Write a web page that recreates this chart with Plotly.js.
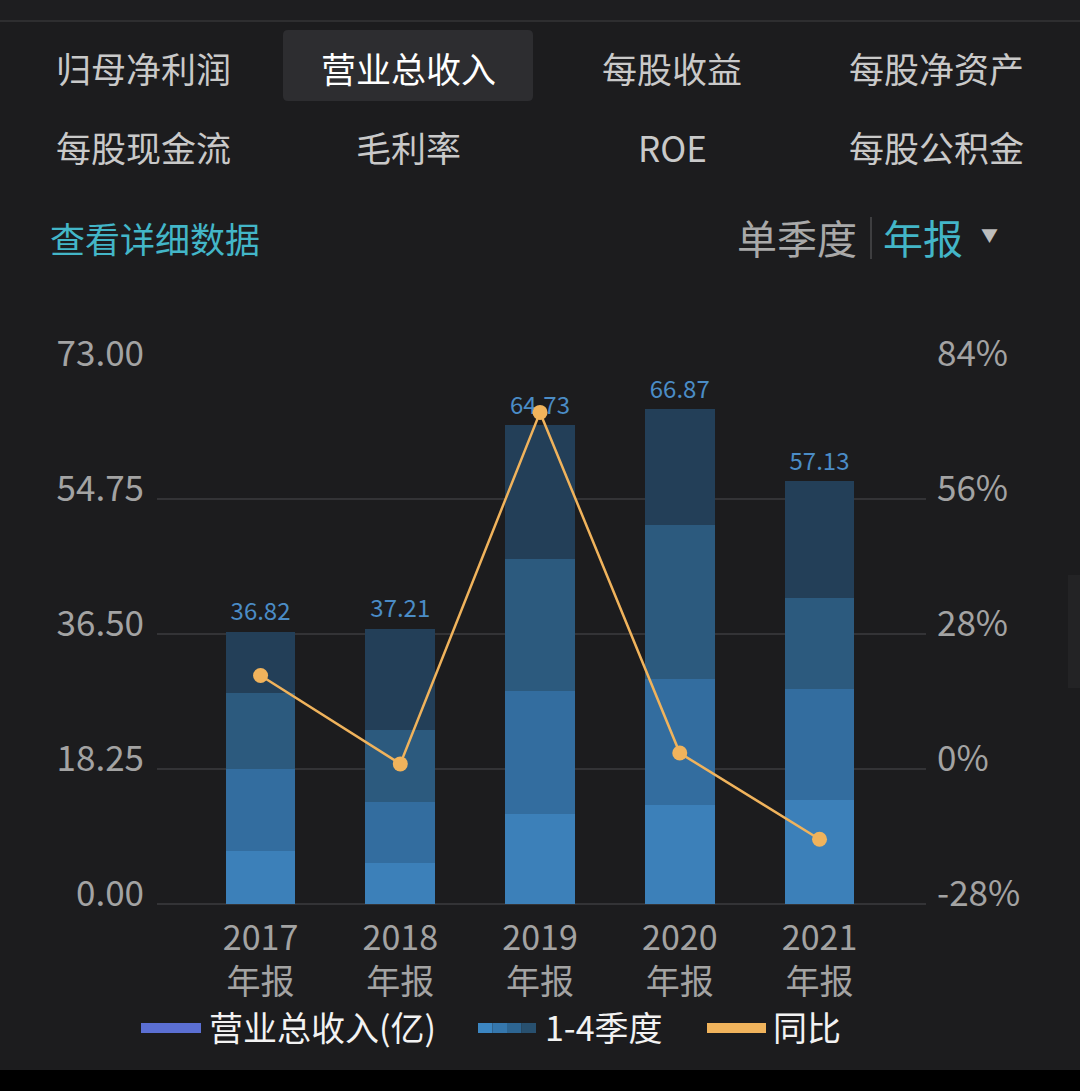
<!DOCTYPE html>
<html>
<head>
<meta charset="utf-8">
<script src="https://cdn.plot.ly/plotly-3.0.1.min.js"></script>
<style>
  html, body { margin: 0; padding: 0; background: #1c1c1e; }
  #chart { width: 1080px; height: 1091px; }
</style>
</head>
<body>
<div id="chart"></div>
<script>
// ---- Data ----
const years = ['2017', '2018', '2019', '2020', '2021'];
const yearLabels = ['2017<br>年报', '2018<br>年报', '2019<br>年报', '2020<br>年报', '2021<br>年报'];
const q1 = [7.21, 5.58, 12.17, 13.44, 14.03];
const q2 = [11.00, 8.25, 16.63, 16.99, 15.04];
const q3 = [10.27, 9.69, 17.90, 20.75, 12.24];
const q4 = [8.34, 13.69, 18.03, 15.69, 15.82];
const totals = [36.82, 37.21, 64.73, 66.87, 57.13];
const yoy = [19.4, 1.06, 73.96, 3.31, -14.57];
const leftTicks = [0, 18.25, 36.5, 54.75, 73];
const rightTicks = [-28, 0, 28, 56, 84];
const tabsRow1 = ['归母净利润', '营业总收入', '每股收益', '每股净资产'];
const tabsRow2 = ['每股现金流', '毛利率', 'ROE', '每股公积金'];
const legendNames = ['营业总收入(亿)', '1-4季度', '同比'];

// ---- Styles ----
const FONT = '"Noto Sans CJK SC", "Noto Sans", sans-serif';
const BG = '#1c1c1e';
const qColors = ['#3c80b9', '#336d9f', '#2c5a7e', '#233f58'];
const ORANGE = '#f0b35c';

// Pixel -> paper helpers (plot area: x 157..926, y 364..904)
const L = 157, R = 154, T = 364, B = 187, W = 1080, H = 1091;
const PW = W - L - R, PH = H - T - B;
const px = v => (v - L) / PW;
const py = v => (H - B - v) / PH;

const qs = [q1, q2, q3, q4];
const traces = qs.map((q, i) => ({
  type: 'bar', x: years, y: q, width: 0.5,
  marker: { color: qColors[i], line: { width: 0 } },
  showlegend: false, hoverinfo: 'skip'
}));

traces.push({
  type: 'scatter', mode: 'markers+text', x: years, y: totals,
  marker: { size: 7, color: 'rgba(0,0,0,0)' },
  text: totals.map(v => v.toFixed(2)), textposition: 'top center',
  textfont: { family: FONT, size: 24, color: '#4b8cc6' },
  showlegend: false, hoverinfo: 'skip'
});

traces.push({
  type: 'scatter', mode: 'lines+markers', x: years, y: yoy, yaxis: 'y2',
  line: { color: ORANGE, width: 2.5 },
  marker: { color: ORANGE, size: 15 },
  showlegend: false, hoverinfo: 'skip'
});

const annotations = [];
const shapes = [];

// top separator and bottom black strip
shapes.push({ type: 'rect', xref: 'paper', yref: 'paper', x0: px(0), x1: px(1080), y0: py(0), y1: py(20), fillcolor: '#1e1e20', line: { width: 0 }, layer: 'below' });
shapes.push({ type: 'line', xref: 'paper', yref: 'paper', x0: px(0), x1: px(1080), y0: py(21), y1: py(21), line: { color: '#2e2e30', width: 2 } });
shapes.push({ type: 'rect', xref: 'paper', yref: 'paper', x0: px(0), x1: px(1080), y0: py(1070), y1: py(1091), fillcolor: '#000000', line: { width: 0 } });
// scrollbar hint on right edge
shapes.push({ type: 'rect', xref: 'paper', yref: 'paper', x0: px(1068), x1: px(1082), y0: py(575), y1: py(688), fillcolor: '#232325', line: { width: 0 }, layer: 'below' });

// selected tab box
shapes.push({ type: 'path', xref: 'paper', yref: 'paper',
  path: (() => { const x0 = 283, x1 = 533, y0 = 30, y1 = 101, r = 5;
    const X = v => px(v), Y = v => py(v);
    return `M ${X(x0 + r)} ${Y(y0)} L ${X(x1 - r)} ${Y(y0)} Q ${X(x1)} ${Y(y0)} ${X(x1)} ${Y(y0 + r)} L ${X(x1)} ${Y(y1 - r)} Q ${X(x1)} ${Y(y1)} ${X(x1 - r)} ${Y(y1)} L ${X(x0 + r)} ${Y(y1)} Q ${X(x0)} ${Y(y1)} ${X(x0)} ${Y(y1 - r)} L ${X(x0)} ${Y(y0 + r)} Q ${X(x0)} ${Y(y0)} ${X(x0 + r)} ${Y(y0)} Z`; })(),
  fillcolor: '#2d2d30', line: { width: 0 }, layer: 'below' });

const tabX = [143, 408, 672, 936];
tabsRow1.forEach((t, i) => annotations.push({ xref: 'paper', yref: 'paper', x: px(tabX[i]), y: py(67), text: t, showarrow: false,
  xanchor: 'center', yanchor: 'middle', font: { family: FONT, size: 35, color: i === 1 ? '#ffffff' : '#c9c9c9' } }));
tabsRow2.forEach((t, i) => annotations.push({ xref: 'paper', yref: 'paper', x: px(tabX[i]), y: py(146), text: t, showarrow: false,
  xanchor: 'center', yanchor: 'middle', font: { family: FONT, size: 35, color: '#c9c9c9' } }));

annotations.push({ xref: 'paper', yref: 'paper', x: px(48), y: py(237), text: '查看详细数据', showarrow: false,
  xanchor: 'left', yanchor: 'middle', font: { family: FONT, size: 35, color: '#43b6c8' } });
annotations.push({ xref: 'paper', yref: 'paper', x: px(859), y: py(237), text: '单季度', showarrow: false,
  xanchor: 'right', yanchor: 'middle', font: { family: FONT, size: 40, color: '#a9a9a9' } });
shapes.push({ type: 'line', xref: 'paper', yref: 'paper', x0: px(871), x1: px(871), y0: py(217), y1: py(259), line: { color: '#4a4a4c', width: 1.5 } });
annotations.push({ xref: 'paper', yref: 'paper', x: px(881), y: py(237), text: '年报', showarrow: false,
  xanchor: 'left', yanchor: 'middle', font: { family: FONT, size: 40, color: '#43b6c8' } });
annotations.push({ xref: 'paper', yref: 'paper', x: px(990), y: py(234), text: '▼', showarrow: false,
  xanchor: 'center', yanchor: 'middle', font: { family: FONT, size: 17, color: '#bdbdbd' } });

// legend (drawn)
const legY = 1028;
shapes.push({ type: 'rect', xref: 'paper', yref: 'paper', x0: px(141), x1: px(201), y0: py(legY - 5), y1: py(legY + 5), fillcolor: '#5b6fd3', line: { width: 0 } });
annotations.push({ xref: 'paper', yref: 'paper', x: px(207), y: py(legY - 2), text: legendNames[0], showarrow: false,
  xanchor: 'left', yanchor: 'middle', font: { family: FONT, size: 34, color: '#f2f2f2' } });
const gradStops = ['#3c86c2', '#3577ad', '#2d6592', '#28506f'];
gradStops.forEach((c, i) => shapes.push({ type: 'rect', xref: 'paper', yref: 'paper', x0: px(478 + i * 14.5), x1: px(478 + (i + 1) * 14.5), y0: py(legY - 5), y1: py(legY + 5), fillcolor: c, line: { width: 0 } }));
annotations.push({ xref: 'paper', yref: 'paper', x: px(543), y: py(legY - 2), text: legendNames[1], showarrow: false,
  xanchor: 'left', yanchor: 'middle', font: { family: FONT, size: 34, color: '#f2f2f2' } });
shapes.push({ type: 'rect', xref: 'paper', yref: 'paper', x0: px(707), x1: px(766), y0: py(legY - 5), y1: py(legY + 5), fillcolor: ORANGE, line: { width: 0 } });
annotations.push({ xref: 'paper', yref: 'paper', x: px(771), y: py(legY - 2), text: legendNames[2], showarrow: false,
  xanchor: 'left', yanchor: 'middle', font: { family: FONT, size: 34, color: '#f2f2f2' } });

const layout = {
  width: W, height: H,
  margin: { l: L, r: R, t: T, b: B, pad: 0 },
  paper_bgcolor: BG, plot_bgcolor: BG,
  barmode: 'stack', bargap: 0.5,
  showlegend: false,
  font: { family: FONT, color: '#a3a3a3' },
  xaxis: {
    type: 'category', range: [-0.741, 4.762], fixedrange: true,
    tickvals: years, ticktext: yearLabels,
    tickfont: { family: FONT, size: 34, color: '#a3a3a3' },
    showgrid: false, zeroline: false, showline: false, ticks: '',
    ticklabelstandoff: 11
  },
  yaxis: {
    range: [0, 73], tickvals: leftTicks, ticktext: leftTicks.map(v => v.toFixed(2)),
    tickfont: { family: FONT, size: 35, color: '#a3a3a3' },
    showgrid: true, gridcolor: '#333336', gridwidth: 1.5,
    zeroline: true, zerolinecolor: '#333336', zerolinewidth: 1.5,
    showline: false, ticks: '', ticklabelstandoff: 12, ticklabelshift: -10
  },
  yaxis2: {
    overlaying: 'y', side: 'right', range: [-28, 84], tickvals: rightTicks,
    ticktext: rightTicks.map(v => v + '%'),
    tickfont: { family: FONT, size: 35, color: '#a3a3a3' },
    showgrid: false, zeroline: false, showline: false, ticks: '',
    ticklabelstandoff: 10, ticklabelshift: -10
  },
  shapes, annotations
};

Plotly.newPlot('chart', traces, layout, { staticPlot: true, displayModeBar: false });
</script>
</body>
</html>
